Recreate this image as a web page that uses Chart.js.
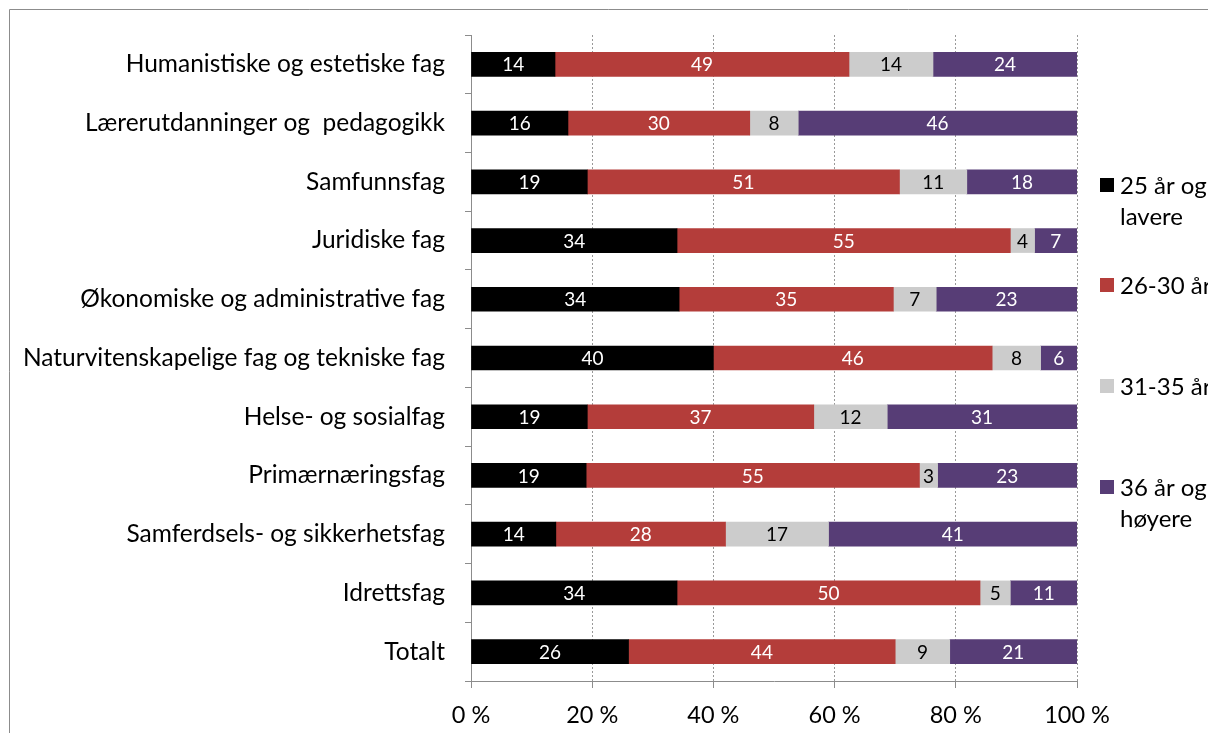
<!DOCTYPE html>
<html><head><meta charset="utf-8">
<script src="https://cdn.jsdelivr.net/npm/chart.js@4"></script>
<style>html,body{margin:0;padding:0;background:#fff}#wrap{width:1208px;height:733px;position:relative}</style>
</head><body><div id="wrap"><canvas id="c" width="1208" height="733"></canvas></div>
<script>
const categories = ["Humanistiske og estetiske fag","Lærerutdanninger og  pedagogikk","Samfunnsfag","Juridiske fag","Økonomiske og administrative fag","Naturvitenskapelige fag og tekniske fag","Helse- og sosialfag","Primærnæringsfag","Samferdsels- og sikkerhetsfag","Idrettsfag","Totalt"];
const seriesNames = ["25 år og lavere","26-30 år","31-35 år","36 år og høyere"];
const age25 = [14,16,19,34,34,40,19,19,14,34,26];
const age26_30 = [49,30,51,55,35,46,37,55,28,50,44];
const age31_35 = [14,8,11,4,7,8,12,3,17,5,9];
const age36 = [24,46,18,7,23,6,31,23,41,11,21];
const xTicks = [0,20,40,60,80,100];
const colors = ["#000000","#B43D3A","#CCCCCC","#573D76"];
const labelColors = ["#ffffff","#ffffff","#000000","#ffffff"];
const FONT = "Lato, 'Open Sans', sans-serif";

const raw = [age25, age26_30, age31_35, age36];
const totals = categories.map((_, i) => raw.reduce((s, a) => s + a[i], 0));
const datasets = raw.map((arr, k) => ({
  label: seriesNames[k],
  data: arr.map((v, i) => v / totals[i] * 100),
  rawValues: arr,
  backgroundColor: colors[k],
  borderWidth: 0,
  barThickness: 24
}));

const framePlugin = {
  id: 'frame',
  beforeDraw(chart) {
    const ctx = chart.ctx;
    ctx.save();
    ctx.fillStyle = '#fff';
    ctx.fillRect(0, 0, chart.width, chart.height);
    ctx.strokeStyle = '#8c8c8c';
    ctx.lineWidth = 1;
    ctx.beginPath();
    ctx.moveTo(9.5, chart.height);
    ctx.lineTo(9.5, 9.5);
    ctx.lineTo(chart.width, 9.5);
    ctx.stroke();
    ctx.restore();
  }
};

const labelPlugin = {
  id: 'barLabels',
  afterDatasetsDraw(chart) {
    const ctx = chart.ctx;
    ctx.save();
    ctx.font = "19px " + FONT;
    ctx.textAlign = 'center';
    ctx.textBaseline = 'middle';
    chart.data.datasets.forEach((ds, k) => {
      const meta = chart.getDatasetMeta(k);
      meta.data.forEach((bar, i) => {
        const p = bar.getProps(['x','y','base'], true);
        ctx.fillStyle = labelColors[k];
        ctx.fillText(String(ds.rawValues[i]), (p.x + p.base) / 2, p.y + 1);
      });
    });
    ctx.restore();
  }
};

const legendPlugin = {
  id: 'sideLegend',
  afterDraw(chart) {
    const ctx = chart.ctx;
    ctx.save();
    ctx.font = "24px " + FONT;
    ctx.textBaseline = 'middle';
    ctx.textAlign = 'left';
    const x0 = 1100, tx = 1120, maxW = 130, lh = 31;
    const ys = [185, 285, 386, 487];
    chart.data.datasets.forEach((ds, k) => {
      const y = ys[k];
      ctx.fillStyle = ds.backgroundColor;
      ctx.fillRect(x0, y - 7, 14, 14);
      const words = ds.label.split(' ');
      const lines = [];
      let cur = '';
      words.forEach(w => {
        const t = cur ? cur + ' ' + w : w;
        if (ctx.measureText(t).width > maxW && cur) { lines.push(cur); cur = w; } else cur = t;
      });
      if (cur) lines.push(cur);
      ctx.fillStyle = '#000';
      lines.forEach((l, j) => ctx.fillText(l, tx, y + 1 + j * lh));
    });
    ctx.restore();
  }
};

new Chart(document.getElementById('c'), {
  type: 'bar',
  data: { labels: categories, datasets },
  options: {
    indexAxis: 'y',
    responsive: false,
    animation: false,
    devicePixelRatio: 1,
    layout: { padding: { top: 35, right: 131, bottom: 0, left: 0 } },
    plugins: { legend: { display: false }, tooltip: { enabled: false } },
    scales: {
      x: {
        stacked: true, min: 0, max: 100,
        afterBuildTicks(s) { s.ticks = xTicks.map(v => ({ value: v })); },
        afterFit(s) { s.height = 52; },
        ticks: { font: { family: FONT, size: 23.5 }, color: '#000', padding: 13, callback: v => v + ' %' },
        grid: { color: '#999999', tickBorderDash: [], tickColor: '#8c8c8c', tickLength: 7, lineWidth: 1 },
        border: { color: '#8c8c8c', display: true, dash: [2, 2] }
      },
      y: {
        stacked: true,
        afterFit(s) { s.width = 471; },
        ticks: { font: { family: FONT, size: 24.5 }, color: '#000', padding: 20 },
        grid: { display: true, drawOnChartArea: false, offset: true, color: '#8c8c8c', tickLength: 6 },
        border: { color: '#8c8c8c' }
      }
    }
  },
  plugins: [framePlugin, labelPlugin, legendPlugin]
});
</script>
</body></html>
